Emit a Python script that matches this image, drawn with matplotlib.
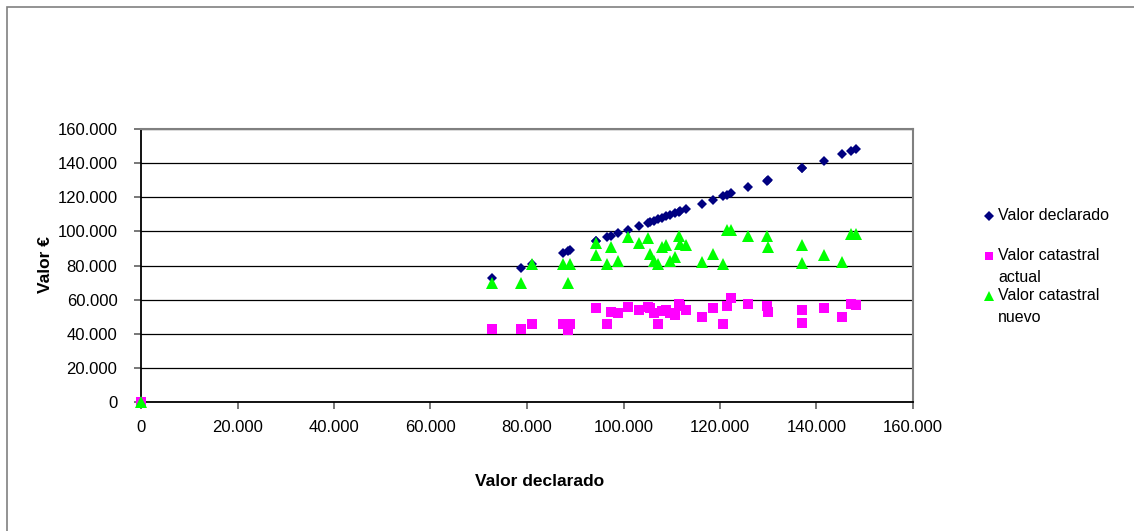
import matplotlib
matplotlib.use('Agg')

import matplotlib.pyplot as plt
from matplotlib.lines import Line2D
from matplotlib.patches import Rectangle
from matplotlib.ticker import FuncFormatter, MultipleLocator

plt.rcParams['font.family'] = ['Liberation Sans', 'DejaVu Sans']

# Datos (en euros)
valor_declarado = [0, 72700, 78800, 81100, 87500, 88500, 89000, 94200, 94300,
                   96500, 97400, 98900, 101000, 103300, 105000, 105400, 106300,
                   107200, 108000, 108900, 109600, 110700, 111600, 111800,
                   112900, 116200, 118500, 120700, 121500, 122300, 125900,
                   129700, 129900, 136900, 137000, 141500, 145300, 147100, 148100]
valor_actual = [0, 42800, 43000, 45900, 45700, 42200, 45700, 55200, 55200,
                45700, 52600, 52000, 55500, 53900, 55500, 55000, 52000,
                45700, 53300, 53900, 52000, 50700, 57600, 56000,
                54100, 50000, 54900, 45700, 56400, 60800, 57400,
                56400, 52600, 46500, 53900, 54900, 50000, 57400, 56900]
valor_nuevo = [0, 69600, 69900, 80900, 80700, 69900, 80700, 93000, 86400,
               80700, 91000, 82600, 96500, 93000, 96300, 86600, 82600,
               80700, 91000, 92000, 82600, 85200, 97300, 92600,
               92300, 82200, 86600, 80700, 100800, 100800, 97300,
               97300, 90700, 81300, 92000, 86200, 82200, 98300, 98300]

series = ['Valor declarado', 'Valor catastral\nactual', 'Valor catastral\nnuevo']
colores = ['#000080', '#FF00FF', '#00FF00']
marcadores = ['D', 's', '^']
tamanos = [5.5, 7.5, 8]

fig = plt.figure(figsize=(11.34, 5.31), dpi=100)
ax = fig.add_axes([141 / 1134, 129 / 531, 772 / 1134, 273 / 531])

# marco exterior del grafico
fig.patches.append(Rectangle((7 / 1134, -0.1), 1.2, (531 - 7) / 531 + 0.1,
                             transform=fig.transFigure, fill=False,
                             edgecolor='#808080', lw=1.2))

valores_y = [valor_declarado, valor_actual, valor_nuevo]
for vy, c, m, s in zip(valores_y, colores, marcadores, tamanos):
    ax.plot(valor_declarado, vy, linestyle='none', marker=m, color=c,
            markersize=s, markeredgewidth=0, clip_on=False, zorder=3)

ax.set_xlim(0, 160000)
ax.set_ylim(0, 160000)
ax.xaxis.set_major_locator(MultipleLocator(20000))
ax.yaxis.set_major_locator(MultipleLocator(20000))
fmt = FuncFormatter(lambda v, p: f"{int(v):,}".replace(",", "."))
ax.xaxis.set_major_formatter(fmt)
ax.yaxis.set_major_formatter(fmt)
ax.grid(axis='y', color='black', linewidth=0.9)
ax.set_axisbelow(True)

ax.tick_params(axis='both', labelsize=12, length=5, width=1.2,
               color='#606060', direction='out')
ax.tick_params(axis='y', pad=12)
ax.tick_params(axis='x', pad=8)
for lado in ['left', 'bottom']:
    ax.spines[lado].set_color('black')
    ax.spines[lado].set_linewidth(1.3)
for lado in ['top', 'right']:
    ax.spines[lado].set_color('#808080')
    ax.spines[lado].set_linewidth(1.5)

fig.text(540 / 1134, 1 - 481 / 531, 'Valor declarado', ha='center',
         va='center', fontsize=12.5, fontweight='bold')
fig.text(46 / 1134, 1 - 265 / 531, 'Valor €', ha='center', va='center',
         rotation=90, fontsize=12.5, fontweight='bold')

# leyenda
ys_leyenda = [216, 256, 296]
for etiqueta, c, m, s, y in zip(series, colores, marcadores, tamanos, ys_leyenda):
    yf = 1 - y / 531
    fig.add_artist(Line2D([989 / 1134], [yf], marker=m, color=c,
                          markersize=s * 0.85, markeredgewidth=0,
                          linestyle='none', transform=fig.transFigure))
    for i, linea in enumerate(etiqueta.split('\n')):
        fig.text(998 / 1134, 1 - (y + 21.5 * i) / 531, linea, ha='left',
                 va='center', fontsize=11.5)

fig.savefig('out.png', dpi=100)
